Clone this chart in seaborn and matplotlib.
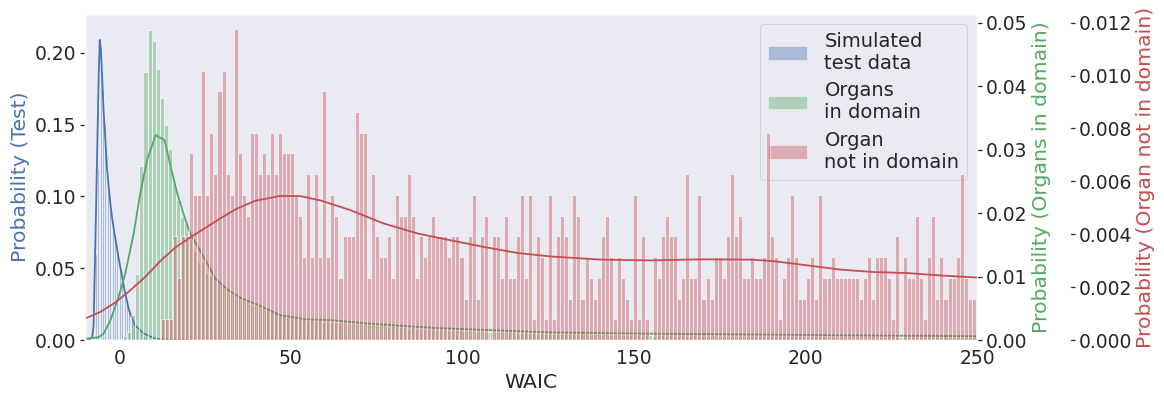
import matplotlib
matplotlib.use("Agg")
import matplotlib.pyplot as plt
from matplotlib.patches import Patch
import numpy as np
import pandas as pd
import seaborn as sns

TEST_COLOR = "#4C72B0"
IN_COLOR = "#55A868"
OUT_COLOR = "#C44E52"

# Simulated test data: histogram density per bin (bin width 0.5, first edge -8)
TEST_BIN_START = -8.0
TEST_BIN_WIDTH = 0.5
TEST_DENSITY = [
    0.003, 0.02, 0.06, 0.12, 0.2155, 0.2046, 0.175, 0.15, 0.13, 0.113,
    0.10, 0.09, 0.082, 0.074, 0.066, 0.058, 0.05, 0.043, 0.036, 0.030,
    0.025, 0.020, 0.016, 0.013, 0.011, 0.009, 0.007, 0.006, 0.005, 0.004,
    0.003, 0.0025, 0.002, 0.0015, 0.001, 0.001, 0.0007, 0.0005, 0.0004, 0.0003,
]
TEST_KDE_X = [-10, -8.5, -7.9, -7.5, -7.0, -6.5, -6.0, -5.7, -5.4, -5.0, -4.6, -4.2,
              -3.6, -2.8, -2.1, -1.4, -0.2, 0.6, 1.5, 2.8, 4.5, 7.1, 10.5, 15, 20]
TEST_KDE_Y = [0.0, 0.0005, 0.002, 0.01, 0.065, 0.125, 0.185, 0.209, 0.203, 0.183, 0.160, 0.145,
              0.120, 0.099, 0.085, 0.074, 0.057, 0.047, 0.035, 0.021, 0.0105, 0.0045, 0.001, 0.0001, 0.0]

# Organs in domain: density per bin in units of 1e-4
IN_BIN_START = 1.17
IN_BIN_WIDTH = 1.1756
IN_DENSITY_E4 = [
    6, 12, 39, 104, 275, 423, 489, 472, 428, 382, 339, 301, 247, 220, 194, 184, 165,
    140, 123, 123, 106, 103, 99, 91, 86, 83, 73, 73, 68, 65, 62, 57, 55,
    54, 50, 47, 46, 42, 40, 41, 37, 36, 35,
    33, 34, 31, 33, 30, 31, 29, 30, 28, 29,
    27, 28, 26, 27, 25, 26, 24, 25, 24, 23,
    22, 23, 21, 22, 20, 21, 20, 19, 20, 18,
    19, 18, 17, 18, 16, 17, 16, 15, 16, 15,
    15, 14, 15, 14, 13, 14, 13, 13, 12, 13,
    12, 12, 11, 12, 11, 11, 12, 10, 11, 10,
    11, 10, 10, 9, 10, 10, 9, 10, 9, 9,
    9, 9, 8, 9, 9, 8, 9, 8, 8, 9,
    8, 8, 8, 9, 8, 7, 8, 8, 7, 8,
    8, 7, 8, 7, 7, 8, 7, 7, 8, 7,
    7, 7, 7, 8, 7, 6, 7, 7, 7, 6,
    7, 6, 7, 6, 7, 7, 6, 6, 7, 6,
    6, 6, 7, 6, 6, 6, 5, 6, 6, 6,
    6, 5, 6, 6, 5, 6, 5, 6, 5, 6,
    5, 5, 6, 5, 5, 5, 6, 5, 5, 5,
    5, 5, 4, 5, 5, 5, 4, 5, 5, 4,
    5, 4, 5, 4, 5, 4, 4, 5, 4,
]
IN_KDE_X = [-10, -6.0, -4.6, -2.6, -0.2, 1.75, 4.2, 6.1, 8.1, 10.6, 13.2, 15.2, 16.9, 19.0,
            20.7, 23.5, 25.1, 28.0, 31.9, 35.8, 39.7, 47.0, 53.8, 62.5, 72.3, 91.7, 111.0,
            125.7, 155, 184.0, 220, 250]
IN_KDE_Y = [0.0002, 0.00044, 0.001, 0.0031, 0.0068, 0.0105, 0.0168, 0.0231, 0.0284, 0.0323,
            0.0315, 0.0268, 0.0231, 0.0194, 0.0168, 0.0141, 0.0126, 0.0097, 0.0078, 0.0065,
            0.0057, 0.0039, 0.0033, 0.0031, 0.0026, 0.0019, 0.0015, 0.0012, 0.001, 0.00087,
            0.0007, 0.0006]

# Organ not in domain: counts per bin, one count = OUT_DENSITY_PER_COUNT
OUT_BIN_START = 12.16
OUT_BIN_WIDTH = 1.1756
OUT_DENSITY_PER_COUNT = 0.000784
OUT_COUNTS = [
    1, 1, 1, 5, 3, 5, 5, 9, 7, 7,
    13, 7, 10, 8, 12, 13, 8, 7, 15, 9,
    7, 6, 10, 10, 8, 9, 8, 10, 8, 10,
    9, 9, 9, 7, 6, 4, 8, 4, 8, 4,
    12, 4, 7, 6, 3, 5, 5, 5, 11, 10,
    10, 3, 8, 5, 4, 4, 5, 3, 7, 6,
    6, 8, 6, 3, 5, 4, 5, 6, 5, 5,
    5, 4, 5, 5, 4, 2, 5, 7, 2, 5,
    6, 0, 5, 5, 3, 6, 3, 3, 5, 7,
    3, 7, 1, 5, 4, 1, 7, 1, 5, 6,
    5, 2, 7, 6, 2, 4, 3, 2, 3, 5,
    6, 4, 1, 4, 3, 2, 1, 7, 1, 5,
    1, 0, 4, 3, 5, 6, 5, 5, 2, 3,
    8, 3, 3, 7, 2, 3, 2, 4, 4, 3,
    5, 8, 5, 6, 3, 3, 4, 3, 3, 4,
    10, 5, 4, 1, 3, 4, 7, 4, 2, 2,
    3, 4, 2, 7, 3, 3, 4, 3, 3, 3,
    3, 3, 3, 2, 3, 4, 2, 4, 4, 4,
    3, 1, 5, 0, 4, 3, 3, 6, 3, 1,
    4, 6, 2, 4, 2, 3, 3, 4, 8, 3,
    2, 2, 5,
]
OUT_KDE_X = [-9.92, -5.54, -1.17, 3.21, 7.58, 11.96, 16.34, 20.71, 25.09, 29.46, 33.84, 39.67,
             46.97, 52.8, 58.6, 67.4, 77.0, 86.9, 96.6, 106.2, 116.1, 125.7, 140.3, 154.9,
             169.5, 184.1, 190.8, 200.7, 210.3, 220.0, 229.9, 239.5, 250.3]
OUT_KDE_Y = [0.000814, 0.00106, 0.00142, 0.00188, 0.00239, 0.00299, 0.00350, 0.00388, 0.00424,
             0.00460, 0.00494, 0.00527, 0.00545, 0.00544, 0.00528, 0.00491, 0.00441, 0.00403,
             0.00377, 0.00352, 0.00329, 0.00316, 0.00304, 0.00301, 0.00305, 0.00304, 0.00298,
             0.00282, 0.00266, 0.00257, 0.00253, 0.00244, 0.00236]

LABELS = ["Simulated\ntest data", "Organs\nin domain", "Organ\nnot in domain"]


def draw_series(ax, start, width, density, kde_x, kde_y, color):
    density = np.asarray(density, dtype=float)
    edges = start + width * np.arange(len(density) + 1)
    df = pd.DataFrame({"waic": edges[:-1] + width / 2, "dens": density})
    sns.histplot(data=df, x="waic", weights="dens", bins=list(edges), stat="count",
                 color=color, alpha=0.4, edgecolor="white", linewidth=0.6, ax=ax)
    kde = pd.DataFrame({"waic": kde_x, "dens": kde_y})
    sns.lineplot(data=kde, x="waic", y="dens", color=color, linewidth=1.8, ax=ax)


sns.set_theme(style="dark", context="notebook", font_scale=1.7,
              rc={"xtick.bottom": False, "ytick.left": True})

W, H = 1164, 398
fig = plt.figure(figsize=(W / 72, H / 72), dpi=72)
ax1 = fig.add_axes([85 / W, 1 - 340 / H, (977 - 85) / W, (340 - 14) / H])
ax2 = ax1.twinx()
ax3 = ax1.twinx()
ax3.spines["right"].set_position(("axes", 1.104))

draw_series(ax1, TEST_BIN_START, TEST_BIN_WIDTH, TEST_DENSITY, TEST_KDE_X, TEST_KDE_Y, TEST_COLOR)
draw_series(ax2, IN_BIN_START, IN_BIN_WIDTH, np.array(IN_DENSITY_E4) * 1e-4,
            IN_KDE_X, IN_KDE_Y, IN_COLOR)
draw_series(ax3, OUT_BIN_START, OUT_BIN_WIDTH, np.array(OUT_COUNTS) * OUT_DENSITY_PER_COUNT,
            OUT_KDE_X, OUT_KDE_Y, OUT_COLOR)

ax1.set_xlim(-10, 250)
ax1.set_ylim(0, 0.227)
ax2.set_ylim(0, 0.0514)
ax3.set_ylim(0, 0.01233)
ax3.set_yticks(np.arange(0, 0.0121, 0.002))
for ax in (ax1, ax2, ax3):
    ax.tick_params(axis="y", length=5, pad=4)

ax1.set_xlabel("WAIC")
ax1.set_ylabel("Probability (Test)", color=TEST_COLOR)
ax2.set_ylabel("Probability (Organs in domain)", color=IN_COLOR)
ax3.set_ylabel("Probability (Organ not in domain)", color=OUT_COLOR)

# legend sits on the bottom axes, so the red bars are drawn over it
handles = [Patch(facecolor=c, alpha=0.4, label=l)
           for c, l in zip([TEST_COLOR, IN_COLOR, OUT_COLOR], LABELS)]
ax1.legend(handles=handles, loc="upper right", fontsize=19.5, handlelength=2.0,
           handletextpad=0.9, labelspacing=0.45, borderaxespad=0.5)

fig.savefig("out.png", dpi=72)
plt.close(fig)
